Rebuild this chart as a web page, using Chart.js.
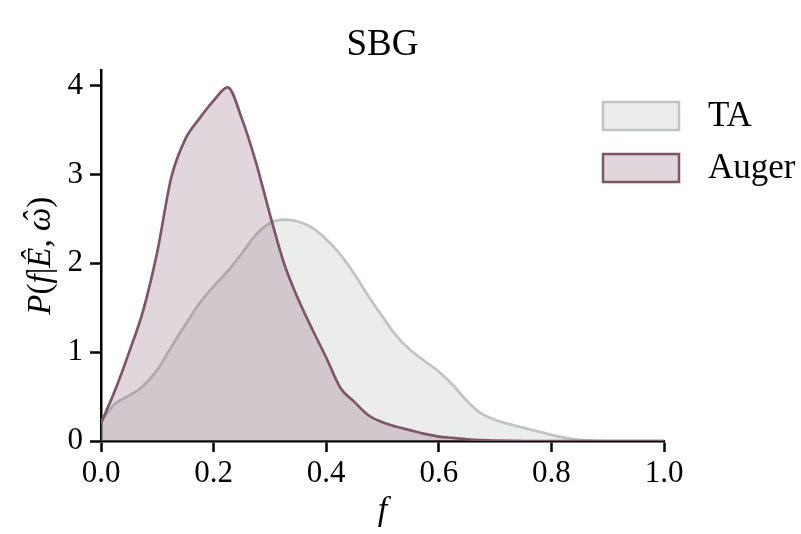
<!DOCTYPE html>
<html>
<head>
<meta charset="utf-8">
<script src="https://cdn.jsdelivr.net/npm/chart.js@4.4.1/dist/chart.umd.min.js"></script>
<style>
  html, body { margin: 0; padding: 0; background: #fff; }
  #wrap { width: 801px; height: 534px; }
</style>
</head>
<body>
<div id="wrap"><canvas id="c" width="801" height="534"></canvas></div>
<script>
// Fraction grid f and the density estimates P(f | E, omega) for each experiment
const fGrid = [0.000, 0.025, 0.050, 0.075, 0.100, 0.125, 0.150, 0.175, 0.200, 0.225,
               0.250, 0.275, 0.300, 0.325, 0.350, 0.375, 0.400, 0.425, 0.450, 0.475,
               0.500, 0.525, 0.550, 0.575, 0.600, 0.625, 0.650, 0.675, 0.700, 0.725,
               0.750, 0.775, 0.800, 0.825, 0.850, 0.875, 0.900, 0.925, 0.950, 0.975, 1.000];

const taDensity = [0.22, 0.42, 0.51, 0.62, 0.80, 1.06, 1.31, 1.55, 1.74, 1.91,
                   2.11, 2.32, 2.45, 2.49, 2.47, 2.40, 2.27, 2.10, 1.88, 1.63,
                   1.40, 1.18, 1.02, 0.90, 0.78, 0.63, 0.45, 0.31, 0.24, 0.19,
                   0.15, 0.11, 0.07, 0.035, 0.012, 0.004, 0, 0, 0, 0, 0];

const augerDensity = [0.20, 0.57, 1.00, 1.47, 2.13, 2.97, 3.40, 3.63, 3.83, 3.98,
                      3.63, 3.14, 2.55, 2.00, 1.60, 1.26, 0.94, 0.60, 0.44, 0.29,
                      0.21, 0.16, 0.12, 0.08, 0.05, 0.035, 0.02, 0.01, 0.005, 0.002,
                      0, 0, 0, 0, 0, 0, 0, 0, 0, 0, 0];

const xTicks = [0.0, 0.2, 0.4, 0.6, 0.8, 1.0];
const yTicks = [0, 1, 2, 3, 4];

const seriesNames = ['TA', 'Auger'];
const titleText = 'SBG';

const SERIF = '"Liberation Serif", "DejaVu Serif", serif';

const pts = (vals) => fGrid.map((f, i) => ({ x: f, y: vals[i] }));

// Hand-drawn legend in the upper right, boxes styled like the fills
const sideLegend = {
  id: 'sideLegend',
  afterDraw(chart) {
    const ctx = chart.ctx;
    const entries = [chart.data.datasets[1], chart.data.datasets[0]];
    const boxX = 603, boxW = 76, boxH = 28;
    const rows = [116, 168];
    ctx.save();
    entries.forEach((ds, i) => {
      const cy = rows[i];
      ctx.fillStyle = '#ffffff';
      ctx.fillRect(boxX, cy - boxH / 2, boxW, boxH);
      ctx.fillStyle = ds.backgroundColor;
      ctx.fillRect(boxX, cy - boxH / 2, boxW, boxH);
      ctx.lineWidth = 2.5;
      ctx.strokeStyle = ds.borderColor;
      ctx.strokeRect(boxX, cy - boxH / 2, boxW, boxH);
      ctx.fillStyle = '#000';
      ctx.font = '35px ' + SERIF;
      ctx.textBaseline = 'middle';
      ctx.textAlign = 'left';
      ctx.fillText(ds.label, 708, cy + 1);
    });
    ctx.restore();
  }
};

// Y-axis label P(f|Ê, ω̂) with italic symbols and upright punctuation
const yLabel = {
  id: 'yLabel',
  afterDraw(chart) {
    const ctx = chart.ctx;
    const area = chart.chartArea;
    const size = 33;
    const it = 'italic ' + size + 'px ' + SERIF;
    const rm = size + 'px ' + SERIF;
    const parts = [
      ['P', it], ['(', rm], ['f', it], ['|', rm], ['Ê', it],
      [', ', rm], ['ω', it, true], [')', rm]
    ];
    ctx.save();
    let total = 0;
    parts.forEach(p => { ctx.font = p[1]; total += ctx.measureText(p[0]).width; });
    ctx.translate(41, (area.top + area.bottom) / 2);
    ctx.rotate(-Math.PI / 2);
    ctx.fillStyle = '#000';
    ctx.textBaseline = 'middle';
    ctx.textAlign = 'left';
    let x = -total / 2;
    parts.forEach(p => {
      ctx.font = p[1];
      const w = ctx.measureText(p[0]).width;
      ctx.fillText(p[0], x, 0);
      if (p[2]) {
        ctx.font = 'italic ' + size + 'px ' + SERIF;
        const hw = ctx.measureText('ˆ').width;
        ctx.fillText('ˆ', x + (w - hw) / 2 + 2, -3);
      }
      x += w;
    });
    ctx.restore();
  }
};

new Chart(document.getElementById('c'), {
  type: 'line',
  data: {
    datasets: [
      {
        label: seriesNames[1],
        data: pts(augerDensity),
        borderColor: '#7e5569',
        backgroundColor: 'rgba(125,84,104,0.24)',
        borderWidth: 2.7,
        fill: 'origin',
        pointRadius: 0,
        cubicInterpolationMode: 'monotone'
      },
      {
        label: seriesNames[0],
        data: pts(taDensity),
        borderColor: '#c1c3c3',
        backgroundColor: 'rgba(190,196,196,0.30)',
        borderWidth: 2.7,
        fill: 'origin',
        pointRadius: 0,
        cubicInterpolationMode: 'monotone'
      }
    ]
  },
  options: {
    responsive: false,
    animation: false,
    devicePixelRatio: 1,
    layout: { padding: { left: 0, right: 137, top: 0, bottom: 0 } },
    plugins: {
      legend: { display: false },
      tooltip: { enabled: false },
      title: {
        display: true,
        text: titleText,
        fullSize: false,
        color: '#000',
        font: { family: SERIF, size: 37, weight: 'normal', lineHeight: 1.2 },
        padding: { top: 23, bottom: 3 }
      }
    },
    scales: {
      x: {
        type: 'linear',
        min: 0,
        max: 1,
        afterBuildTicks: (s) => { s.ticks = xTicks.map(v => ({ value: v })); },
        afterFit: (s) => { s.height = 93; },
        ticks: {
          color: '#000',
          font: { family: SERIF, size: 31 },
          padding: 3,
          maxRotation: 0,
          callback: (v) => Number(v).toFixed(1)
        },
        grid: {
          drawOnChartArea: false,
          drawTicks: true,
          tickLength: 11,
          tickWidth: 2.5,
          tickColor: '#000'
        },
        border: { display: true, color: '#000', width: 2.5 },
        title: {
          display: true,
          text: 'f',
          color: '#000',
          font: { family: SERIF, size: 34, style: 'italic', lineHeight: 1.2 },
          padding: { top: 0, bottom: 3 }
        }
      },
      y: {
        type: 'linear',
        min: 0,
        max: 4.17,
        afterBuildTicks: (s) => { s.ticks = yTicks.map(v => ({ value: v })); },
        afterFit: (s) => { s.width = 101; },
        ticks: {
          color: '#000',
          font: { family: SERIF, size: 31 },
          padding: 7
        },
        grid: {
          drawOnChartArea: false,
          drawTicks: true,
          tickLength: 11,
          tickWidth: 2.5,
          tickColor: '#000'
        },
        border: { display: true, color: '#000', width: 2.5 },
        title: { display: false }
      }
    }
  },
  plugins: [sideLegend, yLabel]
});
</script>
</body>
</html>
